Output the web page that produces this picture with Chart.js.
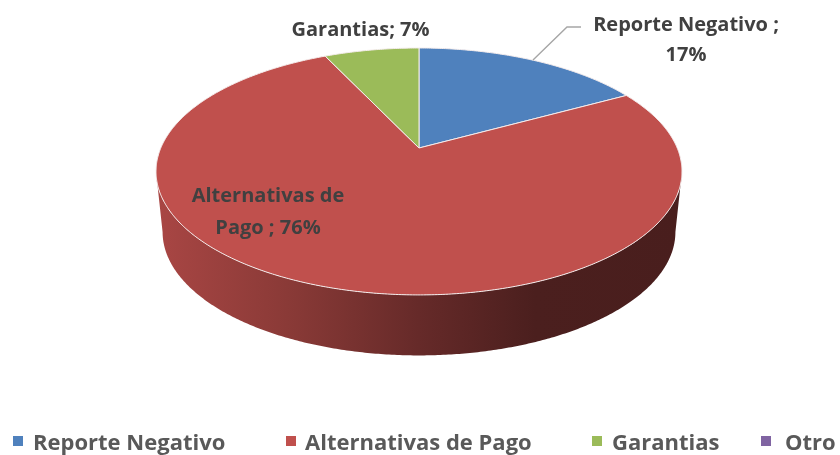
<!DOCTYPE html>
<html><head><meta charset="utf-8">
<style>html,body{margin:0;padding:0;background:#fff}#w{width:840px;height:455px;position:relative}</style>
<script src="https://cdn.jsdelivr.net/npm/chart.js@4"></script>
</head><body><div id="w"><canvas id="c"></canvas></div>
<script>
const categories = ["Reporte Negativo", "Alternativas de Pago", "Garantias", "Otro"];
const shares = [17, 76, 7, 0];
const colors = ["#4f81bd", "#c0504d", "#9bbb59", "#8064a2"];

// Tilted-disk view of the pie (perspective projection of the unit circle)
const view = { ax: 1.7505, by: 0.8068, k: 0.19, depth: 60.5, baseScale: 0.975 };

function project(el, a, base) {
  const u = Math.cos(a), w = Math.sin(a), d = 1 - view.k * w;
  const s = base ? view.baseScale : 1;
  return [el.x + s * view.ax * el.outerRadius * u / d,
          el.y + (base ? view.depth : 0) + view.by * el.outerRadius * w / d];
}
function shade(hex, f) {
  const n = parseInt(hex.slice(1), 16);
  return `rgb(${((n >> 16) & 255) * f},${((n >> 8) & 255) * f},${(n & 255) * f})`;
}
const STEP = Math.PI / 360;
Chart.ArcElement.prototype.draw = function (ctx) {
  const { startAngle, endAngle, options } = this;
  if (endAngle - startAngle <= 0) return;
  ctx.save();
  // side wall, front part of the rim only
  const lo = Math.max(startAngle, Math.asin(view.k));
  const hi = Math.min(endAngle, Math.PI - Math.asin(view.k));
  if (hi > lo) {
    const g = ctx.createLinearGradient(156, 0, 682, 0);
    g.addColorStop(0, shade(options.backgroundColor, 0.88));
    g.addColorStop(0.25, shade(options.backgroundColor, 0.72));
    g.addColorStop(0.5, shade(options.backgroundColor, 0.53));
    g.addColorStop(0.72, shade(options.backgroundColor, 0.39));
    g.addColorStop(1, shade(options.backgroundColor, 0.38));
    ctx.beginPath();
    for (let a = lo; a < hi; a += STEP) ctx.lineTo(...project(this, a, false));
    ctx.lineTo(...project(this, hi, false));
    for (let a = hi; a > lo; a -= STEP) ctx.lineTo(...project(this, a, true));
    ctx.lineTo(...project(this, lo, true));
    ctx.closePath();
    ctx.fillStyle = g;
    ctx.fill();
  }
  // top face
  ctx.beginPath();
  ctx.moveTo(this.x, this.y);
  for (let a = startAngle; a < endAngle; a += STEP) ctx.lineTo(...project(this, a, false));
  ctx.lineTo(...project(this, endAngle, false));
  ctx.closePath();
  ctx.fillStyle = options.backgroundColor;
  ctx.fill();
  ctx.lineJoin = "round";
  ctx.strokeStyle = options.borderColor;
  ctx.lineWidth = options.borderWidth;
  ctx.stroke();
  ctx.restore();
};

const labelFont = 'bold 20px "Open Sans", sans-serif';
const legendFont = 'bold 22px "Open Sans", sans-serif';
const annotate = {
  id: "annotate",
  afterDraw(chart) {
    const ctx = chart.ctx, L = chart.data.labels, V = chart.data.datasets[0].data;
    ctx.save();
    // leader line
    ctx.strokeStyle = "#a6a6a6"; ctx.lineWidth = 1.4;
    ctx.beginPath(); ctx.moveTo(533, 60); ctx.lineTo(567, 27); ctx.lineTo(581, 27); ctx.stroke();
    // data labels
    ctx.font = labelFont; ctx.fillStyle = "#404040";
    ctx.textAlign = "center"; ctx.textBaseline = "alphabetic";
    ctx.fillText(`${L[0]} ;`, 686, 31);
    ctx.fillText(`${V[0]}%`, 686, 61);
    ctx.fillText(`${L[2]}; ${V[2]}%`, 360.5, 36);
    ctx.fillText("Alternativas de", 268, 202);
    ctx.fillText(`Pago ; ${V[1]}%`, 268, 234);
    // legend
    const boxX = [13, 286, 592, 761], textX = [33, 305, 612, 785];
    ctx.font = legendFont; ctx.textAlign = "left";
    L.forEach((t, i) => {
      ctx.fillStyle = chart.data.datasets[0].backgroundColor[i];
      ctx.fillRect(boxX[i], 436, 10, 10);
      ctx.fillStyle = "#595959";
      ctx.fillText(t, textX[i], 450);
    });
    ctx.restore();
  }
};

new Chart(document.getElementById("c"), {
  type: "pie",
  data: { labels: categories, datasets: [{ data: shares, backgroundColor: colors, borderColor: "#f4ecec", borderWidth: 1 }] },
  options: {
    responsive: true, maintainAspectRatio: false, animation: false,
    layout: { padding: { left: 0, right: 2, top: 0, bottom: 159 } },
    plugins: { legend: { display: false }, tooltip: { enabled: false }, title: { display: false } }
  },
  plugins: [annotate]
});
</script></body></html>
